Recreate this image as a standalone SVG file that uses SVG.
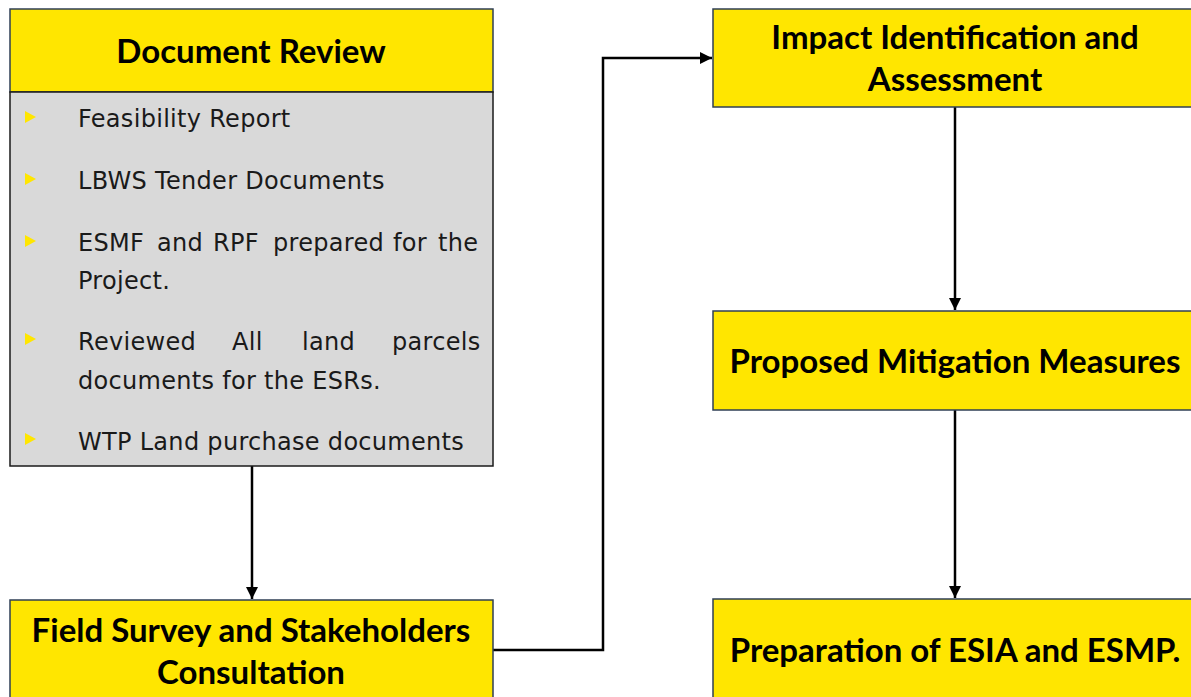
<svg xmlns="http://www.w3.org/2000/svg" width="1191" height="697" viewBox="0 0 1191 697">
<defs>
<style>
.box{fill:#FFE600;stroke:#2F3F55;stroke-width:1.5}
.body{fill:#D9D9D9;stroke:#1a1a1a;stroke-width:1.5}
.h{font-family:Lato,"Liberation Sans",sans-serif;font-weight:bold;font-size:33px;fill:#000;text-anchor:middle}
.t{font-family:"DejaVu Sans","Liberation Sans",sans-serif;font-size:24px;fill:#1a1a1a;letter-spacing:0.3px}
.bul{fill:#FFE600}
.c{fill:none;stroke:#000;stroke-width:2.5}
</style>
<marker id="ah" viewBox="0 0 10 10" refX="10" refY="5" markerWidth="5" markerHeight="5" orient="auto" markerUnits="strokeWidth">
<path d="M0,0 L10,5 L0,10 z" fill="#000"/>
</marker>
</defs>
<rect width="1191" height="697" fill="#fff"/>
<g id="connectors">
<path class="c" d="M252,466 V599" marker-end="url(#ah)"/>
<path class="c" d="M493,650 H603 V58 H712" marker-end="url(#ah)"/>
<path class="c" d="M955,107 V310" marker-end="url(#ah)"/>
<path class="c" d="M955,410 V598" marker-end="url(#ah)"/>
</g>
<g id="document-review">
<rect class="box" x="10" y="9" width="483" height="83"/>
<text class="h" x="251" y="63">Document Review</text>
<rect class="body" x="10" y="92" width="483" height="374"/>
<polygon class="bul" points="25,111 36,117 25,123"/>
<polygon class="bul" points="25,173 36,179 25,185"/>
<polygon class="bul" points="25,235 36,241 25,247"/>
<polygon class="bul" points="25,333 36,339 25,345"/>
<polygon class="bul" points="25,433 36,439 25,445"/>
<text class="t" x="78" y="127">Feasibility Report</text>
<text class="t" x="78" y="189">LBWS Tender Documents</text>
<text class="t" y="251"><tspan x="78">ESMF</tspan><tspan x="157">and</tspan><tspan x="213">RPF</tspan><tspan x="273">prepared</tspan><tspan x="393">for</tspan><tspan x="438">the</tspan></text>
<text class="t" x="78" y="289">Project.</text>
<text class="t" y="350"><tspan x="78">Reviewed</tspan><tspan x="232">All</tspan><tspan x="302">land</tspan><tspan x="392">parcels</tspan></text>
<text class="t" x="78" y="389">documents for the ESRs.</text>
<text class="t" x="78" y="450">WTP Land purchase documents</text>
</g>
<g id="field-survey">
<rect class="box" x="10" y="600" width="483" height="105"/>
<text class="h" x="251" y="642">Field Survey and Stakeholders</text>
<text class="h" x="251" y="684">Consultation</text>
</g>
<g id="impact">
<rect class="box" x="713" y="9" width="490" height="98"/>
<text class="h" x="955" y="49">Impact Identification and</text>
<text class="h" x="955" y="91">Assessment</text>
</g>
<g id="mitigation">
<rect class="box" x="713" y="311" width="490" height="99"/>
<text class="h" x="955" y="373">Proposed Mitigation Measures</text>
</g>
<g id="esia">
<rect class="box" x="713" y="599" width="490" height="110"/>
<text class="h" x="955" y="662">Preparation of ESIA and ESMP.</text>
</g>
</svg>
